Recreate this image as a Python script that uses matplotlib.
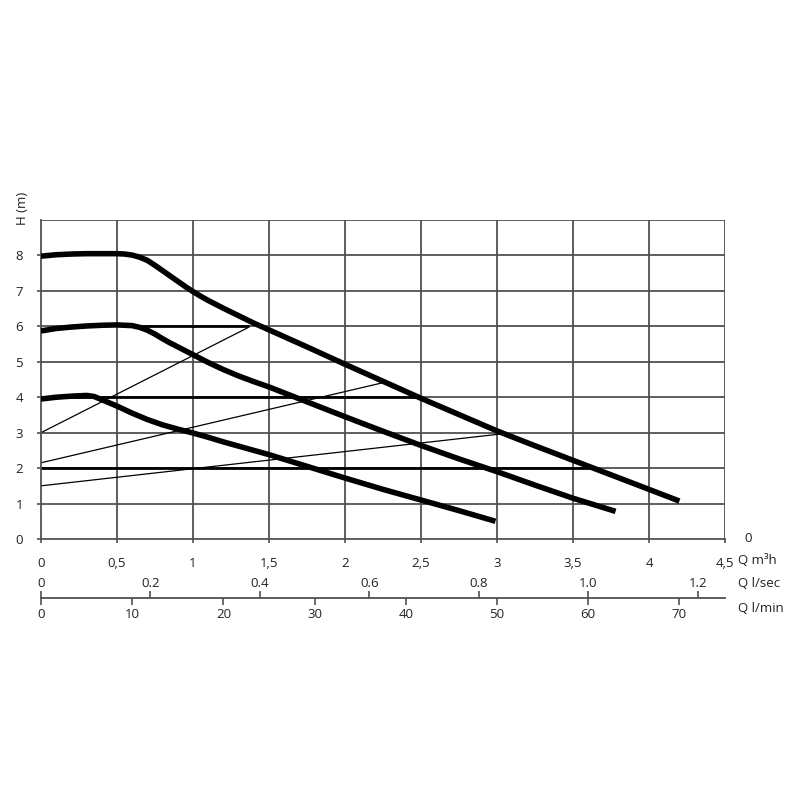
import matplotlib
matplotlib.use("Agg")
import matplotlib.pyplot as plt
import numpy as np

plt.rcParams['font.family'] = ['Open Sans', 'DejaVu Sans']

# Pump curves (Q m3/h, H m)
q_high = [0.0, 0.1, 0.2, 0.3, 0.4, 0.5, 0.55, 0.6, 0.65, 0.7, 0.75, 0.8, 0.85, 0.9, 0.95,
          1.0, 1.05, 1.1, 1.15, 1.2, 1.3, 1.4, 1.5, 1.75, 2.0, 2.25, 2.5, 2.75, 3.0, 3.25,
          3.5, 3.75, 4.0, 4.2]
h_high = [7.98, 8.02, 8.04, 8.05, 8.05, 8.05, 8.04, 8.01, 7.95, 7.86, 7.72, 7.57, 7.42, 7.27, 7.12,
          6.98, 6.85, 6.73, 6.62, 6.51, 6.3, 6.09, 5.9, 5.42, 4.93, 4.45, 3.97, 3.51, 3.05, 2.63,
          2.22, 1.81, 1.4, 1.07]
q_mid = [0.0, 0.1, 0.2, 0.3, 0.4, 0.5, 0.55, 0.6, 0.65, 0.7, 0.75, 0.8, 0.85, 0.9, 1.0, 1.1,
         1.2, 1.3, 1.4, 1.5, 1.75, 2.0, 2.25, 2.5, 2.75, 3.0, 3.25, 3.5, 3.78]
h_mid = [5.87, 5.94, 5.98, 6.01, 6.03, 6.04, 6.03, 6.02, 5.97, 5.89, 5.78, 5.65, 5.53, 5.42, 5.2, 4.98,
         4.78, 4.6, 4.44, 4.29, 3.87, 3.45, 3.04, 2.64, 2.26, 1.9, 1.52, 1.15, 0.78]
q_low = [0.0, 0.1, 0.2, 0.3, 0.35, 0.4, 0.5, 0.6, 0.7, 0.8, 0.9, 1.0, 1.1, 1.2, 1.3,
         1.4, 1.5, 1.75, 2.0, 2.25, 2.5, 2.75, 2.99]
h_low = [3.95, 4.0, 4.03, 4.05, 4.02, 3.93, 3.75, 3.55, 3.37, 3.22, 3.1, 2.99, 2.87, 2.74, 2.62,
         2.5, 2.38, 2.05, 1.72, 1.4, 1.1, 0.8, 0.5]

# System lines
sys_q = [[0.0, 1.36], [0.0, 2.24], [0.0, 3.04]]
sys_h = [[3.0, 5.96], [2.15, 4.4], [1.5, 2.97]]

# Thick reference levels: (H, Q start, Q end)
lvl_h = [6, 4, 2]
lvl_q0 = [0.6, 0.0, 0.0]
lvl_q1 = [1.37, 2.49, 3.62]

x_ticks = [0, 0.5, 1, 1.5, 2, 2.5, 3, 3.5, 4, 4.5]
x_labels = ["0", "0,5", "1", "1,5", "2", "2,5", "3", "3,5", "4", "4,5"]
y_ticks = [0, 1, 2, 3, 4, 5, 6, 7, 8]
ls_ticks = [0, 0.2, 0.4, 0.6, 0.8, 1.0, 1.2]
ls_labels = ["0", "0.2", "0.4", "0.6", "0.8", "1.0", "1.2"]
lm_ticks = [0, 10, 20, 30, 40, 50, 60, 70]

fig = plt.figure(figsize=(8, 8), dpi=100)
ax = fig.add_axes([0.05125, 0.32625, 0.855, 0.39875])
ax.set_xlim(0, 4.5)
ax.set_ylim(0, 9)

gcol = '#505050'
tcol = '#222222'
fs = 9.5
for xv in np.arange(0.5, 4.51, 0.5):
    ax.axvline(xv, color=gcol, lw=1.3, zorder=1)
for yv in range(1, 10):
    ax.axhline(yv, color=gcol, lw=1.3, zorder=1)

for s in ['top', 'right']:
    ax.spines[s].set_visible(False)
for s in ['left', 'bottom']:
    ax.spines[s].set_color(gcol)
    ax.spines[s].set_linewidth(1.3)

for h, a, b in zip(lvl_h, lvl_q0, lvl_q1):
    ax.plot([a, b], [h, h], color='black', lw=2.0, zorder=2, solid_capstyle='butt')
for sq, sh in zip(sys_q, sys_h):
    ax.plot(sq, sh, color='black', lw=0.9, zorder=2)

for q, h in [(q_high, h_high), (q_mid, h_mid), (q_low, h_low)]:
    ax.plot(q, h, color='black', lw=4.0, zorder=3, solid_capstyle='butt',
            solid_joinstyle='round')

ax.set_xticks(x_ticks)
ax.set_xticklabels(x_labels)
ax.set_yticks(y_ticks)
ax.tick_params(axis='both', direction='out', length=3, width=1.2, color=gcol,
               labelsize=fs, labelcolor=tcol)
ax.tick_params(axis='x', pad=10)
ax.tick_params(axis='y', pad=10)

fig.text(0.028, 0.74, "H (m)", rotation=90, fontsize=fs, color=tcol,
         ha='center', va='center')
fig.text(0.935, 0.3275, "0", fontsize=fs, color=tcol, ha='center', va='center')
fig.text(0.922, 0.299, "Q m\u00b3h", fontsize=fs, color=tcol, ha='left', va='center')
fig.text(0.922, 0.271, "Q l/sec", fontsize=fs, color=tcol, ha='left', va='center')
fig.text(0.922, 0.240, "Q l/min", fontsize=fs, color=tcol, ha='left', va='center')

# Secondary scale axis (l/min below, l/sec above)
ax2 = fig.add_axes([0.05125, 0.2525, 0.855, 0.0001])
ax2.set_xlim(0, 75)
ax2.set_ylim(0, 1)
ax2.set_yticks([])
for s in ['top', 'right', 'left']:
    ax2.spines[s].set_visible(False)
ax2.spines['bottom'].set_color(gcol)
ax2.spines['bottom'].set_linewidth(1.3)
ax2.patch.set_visible(False)
ax2.set_xticks(lm_ticks)
ax2.tick_params(axis='x', direction='out', length=5, width=1.2, color=gcol,
                labelsize=fs, labelcolor=tcol, pad=2)

sec = ax2.secondary_xaxis('top', functions=(lambda x: x / 60.0, lambda x: x * 60.0))
sec.set_xticks(ls_ticks)
sec.set_xticklabels(ls_labels)
sec.spines['top'].set_visible(False)
sec.tick_params(axis='x', direction='out', length=5, width=1.2, color=gcol,
                labelsize=fs, labelcolor=tcol, pad=1)

fig.savefig("out.png", dpi=100, facecolor='white')
